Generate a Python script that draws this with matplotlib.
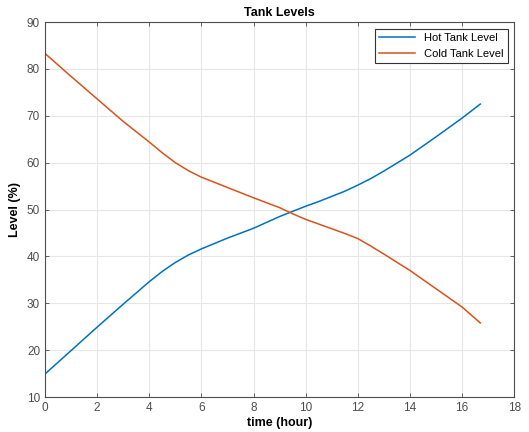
import matplotlib
matplotlib.use("Agg")
import matplotlib.pyplot as plt

time_h = [0, 1, 2, 3, 4, 4.5, 5, 5.5, 6, 7, 8, 9, 9.5, 10, 10.5, 11, 11.5, 12, 12.5, 13, 14, 15, 16, 16.7]
hot_level = [14.9, 19.9, 24.9, 29.8, 34.6, 36.8, 38.7, 40.3, 41.6, 43.9, 46.0, 48.5, 49.6, 50.7, 51.7, 52.8, 53.9, 55.2, 56.6, 58.2, 61.6, 65.5, 69.5, 72.5]
cold_level = [83.3, 78.4, 73.6, 68.8, 64.4, 62.1, 60.0, 58.3, 56.9, 54.7, 52.5, 50.4, 49.1, 47.9, 46.9, 45.9, 44.9, 43.8, 42.2, 40.5, 37.0, 33.1, 29.2, 25.8]
xticks = [0, 2, 4, 6, 8, 10, 12, 14, 16, 18]
yticks = [10, 20, 30, 40, 50, 60, 70, 80, 90]

plt.rcParams['font.family'] = ['Liberation Sans', 'DejaVu Sans']
fig = plt.figure(figsize=(5.29, 4.32), dpi=100)
ax = fig.add_axes([0.085, 0.081, 0.887, 0.868])

ax.plot(time_h, hot_level, color='#0072BD', lw=1.1, label='Hot Tank Level')
ax.plot(time_h, cold_level, color='#D95319', lw=1.1, label='Cold Tank Level')

ax.set_xlim(0, 18)
ax.set_ylim(10, 90)
ax.set_xticks(xticks)
ax.set_yticks(yticks)
ax.grid(True, color='#e6e6e6', lw=0.8)
ax.set_axisbelow(True)
ax.tick_params(direction='in', top=True, right=True, labelsize=8.5, colors='#4d4d4d',
               labelcolor='#4d4d4d', length=3, width=0.6)
for s in ax.spines.values():
    s.set_color('#4d4d4d')
    s.set_linewidth(0.8)
ax.set_title('Tank Levels', fontsize=9, fontweight='bold', pad=4)
ax.set_xlabel('time (hour)', fontsize=9, fontweight='bold', labelpad=2)
ax.set_ylabel('Level (%)', fontsize=9, fontweight='bold', labelpad=4)
leg = ax.legend(loc='upper right', fontsize=8, fancybox=False, framealpha=1,
                edgecolor='#333333', handlelength=3.2, borderaxespad=0.6)
leg.get_frame().set_linewidth(0.8)

fig.savefig('out.png', dpi=100)
